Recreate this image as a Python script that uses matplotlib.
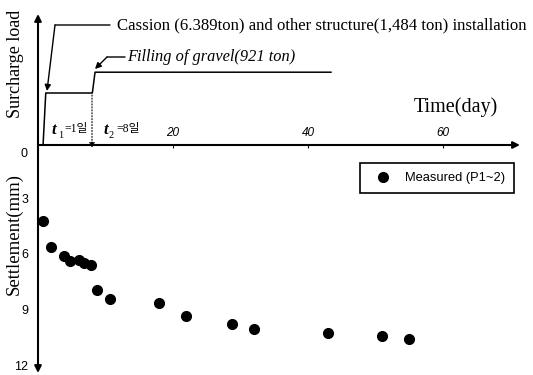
import matplotlib
matplotlib.use('Agg')
import matplotlib.pyplot as plt

# measured settlement (P1~2)
days = [0.8, 1.9, 3.8, 4.7, 6.0, 6.8, 7.8, 8.8, 10.7, 17.9, 21.9, 28.8, 32.0, 43.0, 51.0, 55.0]
settle_mm = [4.20, 5.62, 6.12, 6.38, 6.34, 6.49, 6.58, 7.95, 8.43, 8.66, 9.34, 9.80, 10.05, 10.29, 10.43, 10.58]

# surcharge load history (relative step heights, no scale on the chart)
load_days = [0, 0.75, 1.15, 8.05, 8.45, 43.4]
load_level = [0, 0, 1.0, 1.0, 1.4, 1.4]

time_ticks = [20, 40, 60]
settle_ticks = [3, 6, 9, 12]

W, H = 533, 375
SERIF = 'Liberation Serif'
SANS = 'Liberation Sans'


def F(x, y):
    # pixel position -> figure fraction
    return (x / W, 1 - y / H)


fig = plt.figure(figsize=(W / 100, H / 100), dpi=100)

x0, xpd = 38, 6.75          # pixel of day 0, pixels per day
xlim = (-x0 / xpd, (W - x0) / xpd)

ax_load = fig.add_axes([0, (H - 145) / H, 1, 145 / H])
ax_load.set_xlim(xlim)
ax_load.set_ylim(0, 145 / 52)

ax_set = fig.add_axes([0, 0, 1, (H - 145) / H])
ax_set.set_xlim(xlim)
ax_set.set_ylim((H - 143) / 18.5, (145 - 143) / 18.5)

for ax in (ax_load, ax_set):
    ax.set_facecolor('none')
    for s in ax.spines.values():
        s.set_visible(False)

# time ticks sit above the time axis
ax_load.spines['top'].set_position(('data', 0))
ax_load.xaxis.set_ticks_position('top')
ax_load.set_xticks(time_ticks)
ax_load.set_yticks([])
ax_load.tick_params(axis='x', direction='in', length=2.5, width=0.8, pad=4, labelsize=8.5)
for lbl in ax_load.get_xticklabels():
    lbl.set_fontstyle('italic')
    lbl.set_family(SANS)

ax_set.spines['left'].set_position(('data', 0))
ax_set.set_yticks(settle_ticks)
ax_set.set_xticks([])
ax_set.tick_params(axis='y', length=0, pad=7, labelsize=9)
for lbl in ax_set.get_yticklabels():
    lbl.set_family(SANS)
fig.text(*F(24, 154), '0', ha='center', va='center', fontsize=9, family=SANS)

arrow = dict(arrowstyle='-|>', color='black', lw=1.5, mutation_scale=10, shrinkA=0, shrinkB=0)

# axes with arrows
ax_load.annotate('', xy=(71.4, 0), xytext=(0, 0), arrowprops=arrow, annotation_clip=False)
ax_load.annotate('', xy=(0, (145 - 14) / 52), xytext=(0, 0), arrowprops=arrow, annotation_clip=False)
ax_set.annotate('', xy=(0, (373 - 143) / 18.5), xytext=(0, (145 - 143) / 18.5),
                arrowprops=arrow, annotation_clip=False)

# load steps
ax_load.plot(load_days, load_level, color='black', lw=1.1, clip_on=False)

# dotted marker at t2
ax_load.annotate('', xy=(8.0, -0.06), xytext=(8.0, 0.96),
                 arrowprops=dict(arrowstyle='-|>', color='black', lw=0.8, ls=':',
                                 mutation_scale=8, shrinkA=0, shrinkB=0),
                 annotation_clip=False)

# settlement points
ax_set.plot(days, settle_mm, 'o', color='black', ms=7, label='Measured (P1~2)', clip_on=False)

leg = ax_set.legend(loc='upper left', bbox_to_anchor=F(360, 163), bbox_transform=fig.transFigure,
                    frameon=True, fancybox=False, edgecolor='black', framealpha=1,
                    borderpad=0.7, handlelength=2.2, handletextpad=0.55, borderaxespad=0,
                    numpoints=1, prop={'family': SANS, 'size': 9.3})
leg.get_frame().set_linewidth(1.2)

# axis titles
fig.text(*F(16, 64), 'Surcharge load', rotation=90, ha='center', va='center', fontsize=13, family=SERIF)
fig.text(*F(14, 234), 'Settlement(mm)', rotation=90, ha='center', va='center', fontsize=13.5, family=SERIF)
fig.text(*F(414, 107), 'Time(day)', ha='left', va='center', fontsize=14.5, family=SERIF)

# annotations of the loading stages
thin = dict(arrowstyle='-|>', color='black', lw=1.0, mutation_scale=9, shrinkA=0, shrinkB=0)
line = dict(arrowstyle='-', color='black', lw=1.0, shrinkA=0, shrinkB=0)
ax_load.annotate('', xy=F(110, 25), xytext=F(55, 25), xycoords='figure fraction', arrowprops=line)
ax_load.annotate('', xy=F(47, 91), xytext=F(55, 25), xycoords='figure fraction', arrowprops=thin)
fig.text(*F(117, 25), 'Cassion (6.389ton) and other structure(1,484 ton) installation',
         ha='left', va='center', fontsize=12.1, family=SERIF)

ax_load.annotate('', xy=F(125, 57), xytext=F(107, 57), xycoords='figure fraction', arrowprops=line)
ax_load.annotate('', xy=F(95, 69), xytext=F(107, 57), xycoords='figure fraction', arrowprops=thin)
fig.text(*F(127, 57), 'Filling of gravel(921 ton)', ha='left', va='center',
         fontsize=11.8, family=SERIF, style='italic')

# t1, t2 labels
kr = [SERIF, 'Noto Sans CJK KR']
fig.text(*F(52, 130), 't', ha='left', va='center', fontsize=12, family=SERIF, style='italic', weight='bold')
fig.text(*F(58, 135), '1', ha='left', va='center', fontsize=7.5, family=SERIF)
fig.text(*F(64, 129), '=1일', ha='left', va='center', fontsize=8.5, family=kr)
fig.text(*F(103, 130), 't', ha='left', va='center', fontsize=12, family=SERIF, style='italic', weight='bold')
fig.text(*F(109, 135), '2', ha='left', va='center', fontsize=7.5, family=SERIF)
fig.text(*F(116, 129), '=8일', ha='left', va='center', fontsize=8.5, family=kr)

fig.savefig('out.png', dpi=100)
